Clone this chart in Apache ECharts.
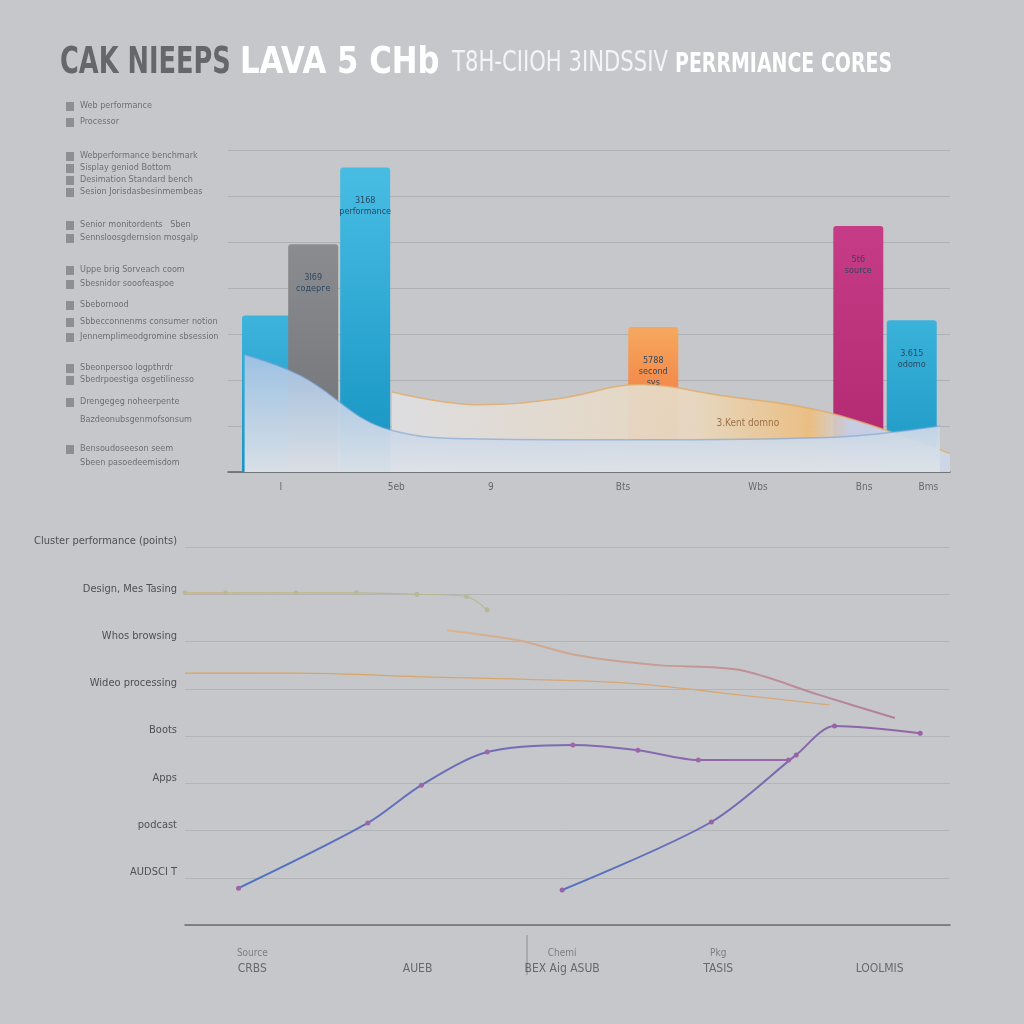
<!DOCTYPE html>
<html><head><meta charset="utf-8">
<script src="https://cdn.jsdelivr.net/npm/echarts@6/dist/echarts.min.js"></script>
<style>html,body{margin:0;padding:0;background:#c6c7cb;}#c{width:1024px;height:1024px;}</style>
</head><body><div id="c"></div>
<script>
// ---------- data ----------
const barX = [5.4, 11.8, 19.0, 58.9, 87.3, 94.7];
const barTop = [3.4, 4.95, 6.62, 3.15, 5.35, 3.3];
const barLabels = ['', '3I69\nсодерге', '3168\nperformance', '5788\nsecond\nsys', '5t6\nsource', '3.615\nodomo'];
const topXTicks = [7.3, 23.3, 36.4, 54.7, 73.4, 88.1, 97.0];
const topXLabels = ['I', '5eb', '9', 'Bts', 'Wbs', 'Bns', 'Bms'];
const blueCurveX = [2.3, 10, 22.4, 35, 57, 83, 98.6];
const blueCurveY = [2.55, 2.1, 0.92, 0.72, 0.7, 0.75, 1.0];
const orangeCurveX = [22.7, 35, 46, 57, 68, 83, 100];
const orangeCurveY = [1.74, 1.46, 1.6, 1.9, 1.67, 1.3, 0.4];

const legendItems = ['Web performance', 'Processor',
  'Webperformance benchmark', 'Sisplay geniod Bottom', 'Desimation Standard bench', 'Sesion Jorisdasbesinmembeas',
  'Senior monitordents   Sben', 'Sennsloosgdernsion mosgalp',
  'Uppe brig Sorveach coom', 'Sbesnidor sooofeaspoe',
  'Sbebornood', 'Sbbecconnenms consumer notion', 'Jennemplimeodgromine sbsession',
  'Sbeonpersoo logpthrdr', 'Sbedrpoestiga osgetilinesso',
  'Drengegeg noheerpente', 'Bazdeonubsgenmofsonsum',
  'Bensoudoseeson seem', 'Sbeen pasoedeemisdom'];
const bottomYLabels = ['', 'AUDSCI T', 'podcast', 'Apps', 'Boots', 'Wideo processing', 'Whos browsing', 'Design, Mes Tasing', 'Cluster performance (points)'];
const bottomXTicks = [8.8, 30.4, 49.3, 69.7, 90.8];
const bottomXLabels = ['CRBS', 'AUEB', 'BEX Aig ASUB', 'TASIS', 'LOOLMIS'];
const bottomXSub = ['Source', '', 'Chemi', 'Pkg', ''];
const lineAX = [0, 5.3, 14.5, 22.4, 30.3, 36.8, 39.5];
const lineAY = [7.03, 7.03, 7.03, 7.03, 7.0, 6.95, 6.67];
const lineBX = [34.2, 43.4, 51.3, 61.8, 72.4, 82.9, 92.8];
const lineBY = [6.24, 6.03, 5.71, 5.5, 5.4, 4.87, 4.38];
const lineCX = [0, 14.5, 31.6, 57.9, 72.4, 84.2];
const lineCY = [5.33, 5.33, 5.25, 5.12, 4.87, 4.66];
const lineDX = [7.0, 23.9, 30.9, 39.5, 50.7, 59.2, 67.1, 78.9];
const lineDY = [0.78, 2.16, 2.96, 3.66, 3.81, 3.7, 3.49, 3.49];
const lineEX = [49.3, 68.8, 79.9, 84.9, 96.1];
const lineEY = [0.74, 2.18, 3.6, 4.21, 4.06];

// ---------- styles ----------
const barColors = [
  ['#3db4dc', '#1a95c4'], ['#8a8c8f', '#6f7174'], ['#48bde4', '#1593c2'],
  ['#f6a85e', '#ef5f32'], ['#c63c86', '#b02870'], ['#3ab2da', '#1c98c4']
];
const legendYs = [106, 122, 156, 168, 180, 192, 225, 238, 270, 284, 305, 322, 337, 368, 380, 402, 420, 449, 463];
const legendIcon = [1,1,1,1,1,1,1,1,1,1,1,1,1,1,1,1,0,1,0];

const zip = (a, b) => a.map((v, i) => [v, b[i]]);
const grad = (c1, c2) => new echarts.graphic.LinearGradient(0, 0, 1, 0, [{offset: 0, color: c1}, {offset: 1, color: c2}]);

const chart = echarts.init(document.getElementById('c'), null, {renderer: 'canvas'});

const graphics = [];
// title
const titleParts = [
  {text: 'CAK NIEEPS', x: 60, y: 44, size: 38, color: '#66676b', weight: 'bold', sx: 0.75},
  {text: 'LAVA 5 CHb', x: 240, y: 44, size: 38, color: '#ffffff', weight: 'bold', sx: 0.9},
  {text: 'T8H-CIIOH 3INDSSIV', x: 452, y: 50, size: 28, color: '#f4f4f6', weight: 'normal', sx: 0.84},
  {text: 'PERRMIANCE CORES', x: 675, y: 52, size: 26, color: '#ffffff', weight: 'bold', sx: 0.81}
];
titleParts.forEach(t => graphics.push({
  type: 'text', x: t.x, y: t.y, scaleX: t.sx,
  style: {text: t.text, fill: t.color, font: t.weight + ' ' + t.size + 'px "DejaVu Sans Condensed", "Liberation Sans Narrow", sans-serif'}
}));
// left legend block
legendItems.forEach((s, i) => {
  const y = legendYs[i];
  if (legendIcon[i]) graphics.push({type: 'rect', shape: {x: 66, y: y - 4, width: 8, height: 9}, style: {fill: '#8d8f93'}});
  graphics.push({type: 'text', x: 80, y: y - 5, style: {text: s, fill: '#6d6f73', font: '9px "DejaVu Sans Condensed", sans-serif'}});
});
graphics.push({type: 'line', shape: {x1: 527, y1: 935, x2: 527, y2: 975}, style: {stroke: '#8a8c90', lineWidth: 1}});

const lineSeries = (name, xs, ys, c1, c2, w, sym) => ({
  type: 'line', name, xAxisIndex: 1, yAxisIndex: 1, data: zip(xs, ys),
  smooth: 0.3, symbol: sym ? 'circle' : 'none', symbolSize: 5, showSymbol: !!sym,
  lineStyle: {width: w, color: grad(c1, c2)}, itemStyle: {color: c2}, z: 5
});

chart.setOption({
  backgroundColor: '#c6c7cb',
  animation: false,
  graphic: graphics,
  grid: [
    {left: 228, right: 74, top: 150, bottom: 552},
    {left: 185, right: 74, top: 547, bottom: 99}
  ],
  xAxis: [
    {type: 'value', gridIndex: 0, min: 0, max: 100, axisLabel: {show: false}, axisTick: {show: false}, splitLine: {show: false},
      axisLine: {show: true, lineStyle: {color: '#5e6064', width: 1.5}}},
    {type: 'value', gridIndex: 1, min: 0, max: 100, axisLabel: {show: false}, axisTick: {show: false}, splitLine: {show: false},
      axisLine: {show: true, lineStyle: {color: '#6a6c70', width: 1.5}}}
  ],
  yAxis: [
    {type: 'value', gridIndex: 0, min: 0, max: 7, interval: 1, axisLabel: {show: false}, axisLine: {show: false}, axisTick: {show: false},
      splitLine: {lineStyle: {color: '#aeb0b5'}}},
    {type: 'value', gridIndex: 1, min: 0, max: 8, interval: 1, axisLine: {show: false}, axisTick: {show: false},
      axisLabel: {color: '#4e5054', fontSize: 11, fontFamily: '"DejaVu Sans Condensed", sans-serif', margin: 8, verticalAlign: 'bottom',
        formatter: v => bottomYLabels[v] || ''},
      splitLine: {lineStyle: {color: '#b2b4b8'}}}
  ],
  series: [
    {
      type: 'bar', xAxisIndex: 0, yAxisIndex: 0, barWidth: 50, z: 2,
      data: barX.map((x, i) => ({
        value: [x, barTop[i]],
        itemStyle: {color: new echarts.graphic.LinearGradient(0, 0, 0, 1, [{offset: 0, color: barColors[i][0]}, {offset: 1, color: barColors[i][1]}]), borderRadius: [3, 3, 0, 0]}
      })),
      label: {show: true, position: 'insideTop', distance: 28, color: '#2f4860', fontSize: 9, lineHeight: 11,
        fontFamily: '"DejaVu Sans Condensed", sans-serif', formatter: p => barLabels[p.dataIndex]}
    },
    {
      type: 'line', xAxisIndex: 0, yAxisIndex: 0, data: zip(blueCurveX, blueCurveY), smooth: 0.4, symbol: 'none', z: 4,
      lineStyle: {color: 'rgba(120,160,210,0.6)', width: 1.5},
      areaStyle: {opacity: 1, color: new echarts.graphic.LinearGradient(0, 0, 0, 1, [{offset: 0, color: 'rgba(165,195,228,0.93)'}, {offset: 1, color: 'rgba(222,226,232,0.97)'}])}
    },
    {
      type: 'line', xAxisIndex: 0, yAxisIndex: 0, data: zip(orangeCurveX, orangeCurveY), smooth: 0.4, symbol: 'none', z: 3,
      lineStyle: {color: 'rgba(225,170,100,0.8)', width: 1.5},
      areaStyle: {opacity: 1, color: new echarts.graphic.LinearGradient(0, 0, 1, 0, [
        {offset: 0, color: 'rgba(222,222,225,0.96)'}, {offset: 0.55, color: 'rgba(232,215,190,0.96)'},
        {offset: 0.75, color: 'rgba(236,190,128,0.95)'}, {offset: 0.82, color: 'rgba(200,214,232,0.95)'}, {offset: 1, color: 'rgba(205,215,230,0.95)'}])}
    },
    {
      type: 'scatter', xAxisIndex: 0, yAxisIndex: 0, symbolSize: 0, z: 6, data: [[72, 1.05]],
      label: {show: true, formatter: '3.Kent domno', color: '#8a5a30', fontSize: 10, fontFamily: '"DejaVu Sans Condensed", sans-serif'}
    },
    {
      type: 'scatter', xAxisIndex: 0, yAxisIndex: 0, symbolSize: 0, clip: false, z: 6,
      data: topXTicks.map(x => [x, 0]),
      label: {show: true, position: 'bottom', distance: 10, color: '#4e5054', fontSize: 10, fontFamily: '"DejaVu Sans Condensed", sans-serif',
        formatter: p => topXLabels[p.dataIndex]}
    },
    lineSeries('A', lineAX, lineAY, '#c7b272', '#b8b898', 1.2, true),
    lineSeries('B', lineBX, lineBY, '#d9b68c', '#b27e9a', 2, false),
    lineSeries('C', lineCX, lineCY, '#d8a462', '#d6a878', 1.3, false),
    lineSeries('D', lineDX, lineDY, '#4b73c2', '#9c66a8', 2, true),
    lineSeries('E', lineEX, lineEY, '#4d74c0', '#9a62a4', 2, true),
    {
      type: 'scatter', xAxisIndex: 1, yAxisIndex: 1, symbolSize: 0, clip: false, z: 6,
      data: bottomXTicks.map(x => [x, 0]),
      label: {show: true, position: 'bottom', distance: 38, color: '#4e5054', fontSize: 12, fontFamily: '"DejaVu Sans Condensed", sans-serif',
        formatter: p => bottomXLabels[p.dataIndex]}
    },
    {
      type: 'scatter', xAxisIndex: 1, yAxisIndex: 1, symbolSize: 0, clip: false, z: 6,
      data: bottomXTicks.map(x => [x, 0]),
      label: {show: true, position: 'bottom', distance: 23, fontSize: 10, fontFamily: '"DejaVu Sans Condensed", sans-serif',
        formatter: p => bottomXSub[p.dataIndex], color: '#6a6c70'}
    }
  ]
});
</script></body></html>
